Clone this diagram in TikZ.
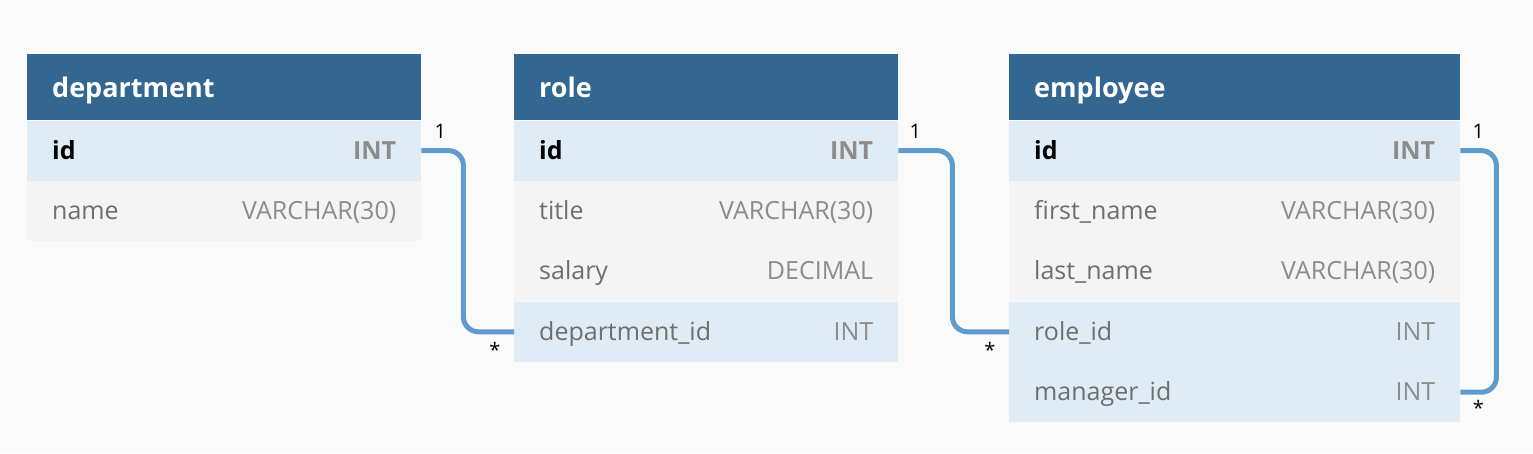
\documentclass[tikz,border=0pt]{standalone}
\usepackage{fontspec}
\setmainfont{Open Sans}
\usetikzlibrary{positioning, calc}

\begin{document}
\begin{tikzpicture}[
    x=1pt, y=-1pt,
    every path/.style={line cap=round},
]
% ── Colours ──
\definecolor{canvas}{HTML}{FAFAFA}
\definecolor{headbg}{HTML}{336791}
\definecolor{keybg}{HTML}{E0ECF5}
\definecolor{rowbg}{HTML}{F4F4F4}
\definecolor{relc}{HTML}{5F9BCF}
\definecolor{fieldc}{HTML}{6E6E6E}
\definecolor{typec}{HTML}{8C8C8C}

% ── Styles ──
\tikzset{
    tblhead/.style={
        rectangle, fill=headbg, anchor=north west,
        minimum height=66pt, inner sep=0pt,
    },
    tblrow/.style={
        rectangle, minimum height=60pt, inner sep=0pt,
    },
    keyrow/.style={tblrow, fill=keybg},
    plainrow/.style={tblrow, fill=rowbg},
    headtext/.style={anchor=base west, inner sep=0pt, text=white, font=\fontsize{27}{32}\selectfont\bfseries},
    fname/.style={anchor=base west, inner sep=0pt, text=fieldc, font=\fontsize{25}{30}\selectfont},
    ftype/.style={anchor=base east, inner sep=0pt, text=typec, font=\fontsize{25}{30}\selectfont},
    pkname/.style={fname, text=black, font=\fontsize{25}{30}\selectfont\bfseries},
    pktype/.style={ftype, font=\fontsize{25}{30}\selectfont\bfseries},
    rel/.style={draw=relc, line width=5pt, rounded corners=15pt, line cap=butt},
    card/.style={font=\fontsize{20}{24}\selectfont, inner sep=0pt},
}

\fill[canvas] (0,0) rectangle (1533,453);

% ── department ──
\node[tblhead, minimum width=394pt] (dh) at (27,54) {};
\node[headtext] (dht) at ([xshift=25pt,yshift=-10pt]dh.west) {department};
\node[keyrow, minimum width=394pt, below=0pt of dh] (did) {};
\node[pkname] at ([xshift=25pt,yshift=-8.5pt]did.west) {id};
\node[pktype] at ([xshift=-25pt,yshift=-8.5pt]did.east) {INT};
\node[plainrow, minimum width=394pt, below=0pt of did] (dname) {};
\node[fname] at ([xshift=25pt,yshift=-8.5pt]dname.west) {name};
\node[ftype] at ([xshift=-25pt,yshift=-8.5pt]dname.east) {VARCHAR(30)};

% ── role ──
\node[tblhead, minimum width=384pt] (rh) at (514,54) {};
\node[headtext] (rht) at ([xshift=25pt,yshift=-10pt]rh.west) {role};
\node[keyrow, minimum width=384pt, below=0pt of rh] (rid) {};
\node[pkname] at ([xshift=25pt,yshift=-8.5pt]rid.west) {id};
\node[pktype] at ([xshift=-25pt,yshift=-8.5pt]rid.east) {INT};
\node[plainrow, minimum width=384pt, below=0pt of rid] (rtitle) {};
\node[fname] at ([xshift=25pt,yshift=-8.5pt]rtitle.west) {title};
\node[ftype] at ([xshift=-25pt,yshift=-8.5pt]rtitle.east) {VARCHAR(30)};
\node[plainrow, minimum width=384pt, below=0pt of rtitle] (rsal) {};
\node[fname] at ([xshift=25pt,yshift=-8.5pt]rsal.west) {salary};
\node[ftype] at ([xshift=-25pt,yshift=-8.5pt]rsal.east) {DECIMAL};
\node[keyrow, minimum width=384pt, below=0pt of rsal] (rdep) {};
\node[fname] at ([xshift=25pt,yshift=-8.5pt]rdep.west) {department\_id};
\node[ftype] at ([xshift=-25pt,yshift=-8.5pt]rdep.east) {INT};

% ── employee ──
\node[tblhead, minimum width=451pt] (eh) at (1009,54) {};
\node[headtext] (eht) at ([xshift=25pt,yshift=-10pt]eh.west) {employee};
\node[keyrow, minimum width=451pt, below=0pt of eh] (eid) {};
\node[pkname] at ([xshift=25pt,yshift=-8.5pt]eid.west) {id};
\node[pktype] at ([xshift=-25pt,yshift=-8.5pt]eid.east) {INT};
\node[plainrow, minimum width=451pt, below=0pt of eid] (efirst) {};
\node[fname] at ([xshift=25pt,yshift=-8.5pt]efirst.west) {first\_name};
\node[ftype] at ([xshift=-25pt,yshift=-8.5pt]efirst.east) {VARCHAR(30)};
\node[plainrow, minimum width=451pt, below=0pt of efirst] (elast) {};
\node[fname] at ([xshift=25pt,yshift=-8.5pt]elast.west) {last\_name};
\node[ftype] at ([xshift=-25pt,yshift=-8.5pt]elast.east) {VARCHAR(30)};
\node[keyrow, minimum width=451pt, below=0pt of elast] (erole) {};
\node[fname] at ([xshift=25pt,yshift=-8.5pt]erole.west) {role\_id};
\node[ftype] at ([xshift=-25pt,yshift=-8.5pt]erole.east) {INT};
\node[keyrow, minimum width=451pt, below=0pt of erole] (emgr) {};
\node[fname] at ([xshift=25pt,yshift=-8.5pt]emgr.west) {manager\_id};
\node[ftype] at ([xshift=-25pt,yshift=-8.5pt]emgr.east) {INT};

% ── Relations ──
\draw[rel] (did.east) -- ++(42,0) |- (rdep.west);
\draw[rel] (rid.east) -- ++(54,0) |- (erole.west);
\draw[rel] (eid.east) -- ++(36,0) |- (emgr.east);

% ── Cardinalities ──
\node[card] (c1) at ([xshift=19pt,yshift=19pt]did.east) {1};
\node[card] (c2) at ([xshift=-19pt,yshift=-18pt]rdep.west) {*};
\node[card] (c3) at ([xshift=17pt,yshift=19pt]rid.east) {1};
\node[card] (c4) at ([xshift=-19pt,yshift=-18pt]erole.west) {*};
\node[card] (c5) at ([xshift=18pt,yshift=19pt]eid.east) {1};
\node[card] (c6) at ([xshift=18pt,yshift=-16pt]emgr.east) {*};
\end{tikzpicture}
\end{document}
